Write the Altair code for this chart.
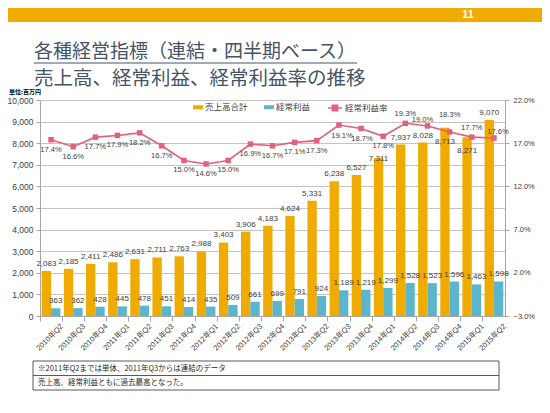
import altair as alt
import pandas as pd

quarters = ["2010年Q2", "2010年Q3", "2010年Q4", "2011年Q1", "2011年Q2", "2011年Q3", "2011年Q4",
            "2012年Q1", "2012年Q2", "2012年Q3", "2012年Q4", "2013年Q1", "2013年Q2", "2013年Q3",
            "2013年Q4", "2014年Q1", "2014年Q2", "2014年Q3", "2014年Q4", "2015年Q1", "2015年Q2"]
sales = [2083, 2185, 2411, 2486, 2631, 2711, 2763, 2988, 3403, 3906, 4183, 4624, 5331, 6238,
         6527, 7311, 7937, 8028, 8713, 8271, 9070]
profit = [363, 362, 428, 445, 478, 451, 414, 435, 509, 661, 699, 791, 924, 1189,
          1219, 1299, 1528, 1523, 1596, 1463, 1598]
rate = [17.4, 16.6, 17.7, 17.9, 18.2, 16.7, 15.0, 14.6, 15.0, 16.9, 16.7, 17.1, 17.3, 19.1,
        18.7, 17.8, 19.3, 19.0, 18.3, 17.7, 17.6]
series = ["売上高合計", "経常利益", "経常利益率"]
left_ticks = [0, 1000, 2000, 3000, 4000, 5000, 6000, 7000, 8000, 9000, 10000]
right_ticks = [-3, 2, 7, 12, 17, 22]
page_no = ["11"]
title_lines = ["各種経営指標（連結・四半期ベース）", "売上高、経常利益、経常利益率の推移"]
unit_text = ["単位:百万円"]
notes = ["※2011年Q2までは単体、2011年Q3からは連結のデータ", "売上高、経常利益ともに過去最高となった。"]

ORANGE = "#F0AB00"
BLUE = "#5BB5CD"
PINK = "#E2607B"
TITLE_C = "#465468"
LABEL_C = "#404040"
NUM_FONT = "Liberation Sans, Noto Sans CJK JP"
JP_FONT = "Noto Sans CJK JP"

df = pd.DataFrame({"quarter": quarters, series[0]: sales, series[1]: profit,
                   "rate": rate, "i": list(range(len(quarters)))})

W, H = 465, 216
step = W / len(quarters)

x = alt.X("quarter:N", sort=quarters,
          scale=alt.Scale(paddingInner=0, paddingOuter=0),
          axis=alt.Axis(title=None, labelAngle=-45, labelAlign="right", labelBaseline="middle",
                        bandPosition=0, labelOffset=step / 2, tickSize=5, labelPadding=4,
                        labelFontSize=7.5, labelColor=LABEL_C, labelFont=NUM_FONT,
                        domainColor="#A6A6A6", tickColor="#A6A6A6", grid=False))

yl_scale = alt.Scale(domain=[0, 10000], nice=False, zero=True)
yl_axis = alt.Axis(title=None, orient="left", values=left_ticks, format=",.0f", grid=True,
                   gridColor="#C4C4C4", tickSize=4, labelPadding=3, labelFontSize=8.5,
                   labelColor=LABEL_C, labelFont=NUM_FONT, domainColor="#A6A6A6",
                   tickColor="#A6A6A6")
yr_scale = alt.Scale(domain=[-3, 22], nice=False, zero=False)
yr_axis = alt.Axis(title=None, orient="right", values=right_ticks, grid=False,
                   labelExpr="format(datum.value, '.1f') + '%'", tickSize=4, labelPadding=4,
                   labelFontSize=7.5, labelColor=LABEL_C, labelFont=NUM_FONT,
                   domainColor="#A6A6A6", tickColor="#A6A6A6")

xoff = alt.XOffset("series:N", sort=series[:2],
                   scale=alt.Scale(paddingInner=0, paddingOuter=0.184))

base_bars = alt.Chart(df).transform_fold(series[:2], as_=["series", "value"])

bars = base_bars.mark_bar().encode(
    x=x,
    xOffset=xoff,
    y=alt.Y("value:Q", scale=yl_scale, axis=yl_axis),
    color=alt.Color("series:N", sort=series[:2],
                    scale=alt.Scale(domain=series[:2], range=[ORANGE, BLUE]),
                    legend=alt.Legend(title=None, orient="none", legendX=153, legendY=2,
                                      direction="horizontal", symbolType="M-1,-0.4H1V0.4H-1Z",
                                      symbolSize=100, labelFontSize=8.5, labelFont=JP_FONT,
                                      labelColor=LABEL_C, labelOffset=2, columnPadding=16,
                                      symbolStrokeWidth=0)),
)


def bar_labels(cond, baseline, dy):
    return base_bars.transform_filter(cond).mark_text(
        baseline=baseline, dy=dy, fontSize=8, color=LABEL_C, font=NUM_FONT).encode(
        x=x,
        xOffset=xoff,
        y=alt.Y("value:Q", scale=yl_scale, axis=yl_axis),
        text=alt.Text("value:Q", format=","),
    )


in_top = f"datum.series == '{series[0]}' && (datum.i == 18 || datum.i == 19)"
at_top = f"datum.series == '{series[0]}' && datum.i == 15"
bar_text_main = bar_labels(f"!({in_top}) && !({at_top})", "bottom", -3)
bar_text_at = bar_labels(at_top, "middle", 1)
bar_text_in = bar_labels(in_top, "middle", 14)

base_rate = alt.Chart(df).transform_calculate(
    lname=f"'{series[2]}'",
    rlabel="format(datum.rate, '.1f') + '%'",
)
line = base_rate.mark_line(strokeWidth=1.6).encode(
    x=x,
    y=alt.Y("rate:Q", scale=yr_scale, axis=yr_axis),
    stroke=alt.Stroke("lname:N", scale=alt.Scale(domain=[series[2]], range=[PINK]),
                      legend=alt.Legend(title=None, orient="none", legendX=287, legendY=0,
                                        direction="horizontal",
                                        symbolType="M-1,0H1M-0.38,-0.38H0.38V0.38H-0.38Z",
                                        symbolSize=196, symbolStrokeWidth=1.5,
                                        symbolFillColor=PINK, labelFontSize=8.5,
                                        labelFont=JP_FONT, labelColor=LABEL_C, labelOffset=2)),
)
points = base_rate.mark_point(shape="square", filled=True, size=30, opacity=1,
                              color=PINK).encode(
    x=x,
    y=alt.Y("rate:Q", scale=yr_scale, axis=yr_axis),
)


def rate_labels(cond, baseline, dx, dy):
    return base_rate.transform_filter(cond).mark_text(
        baseline=baseline, dx=dx, dy=dy, fontSize=7.6, color=LABEL_C, font=NUM_FONT).encode(
        x=x,
        y=alt.Y("rate:Q", scale=yr_scale, axis=yr_axis),
        text="rlabel:N",
    )


rate_text = [
    rate_labels("datum.i < 13 || datum.i == 15", "top", 0, 6),
    rate_labels("datum.i == 13", "top", 3, 7),
    rate_labels("datum.i == 14", "top", 1, 6),
    rate_labels("datum.i == 16 || datum.i == 19", "bottom", 0, -5),
    rate_labels("datum.i == 17", "bottom", -5, -2),
    rate_labels("datum.i == 18", "bottom", 0, -13),
    rate_labels("datum.i == 20", "bottom", 4, -2),
]

one = pd.DataFrame({"k": [0]})
header = alt.Chart(one).mark_rect(color=ORANGE).encode(
    x=alt.value(-32), x2=alt.value(502), y=alt.value(-92), y2=alt.value(-78))
page = alt.Chart(one).mark_text(text=page_no[0], font="Liberation Sans", fontWeight="bold",
                                fontSize=11, color="white", align="center",
                                baseline="middle").encode(x=alt.value(428), y=alt.value(-85))
t1 = alt.Chart(one).mark_text(text=title_lines[0], font=JP_FONT, fontSize=19, color=TITLE_C,
                              align="left", baseline="alphabetic").encode(
    x=alt.value(-6), y=alt.value(-42))
uline = alt.Chart(one).mark_rule(color=TITLE_C, strokeWidth=1).encode(
    x=alt.value(-6), x2=alt.value(317), y=alt.value(-37))
t2 = alt.Chart(one).mark_text(text=title_lines[1], font=JP_FONT, fontSize=19.5, color=TITLE_C,
                              align="left", baseline="alphabetic").encode(
    x=alt.value(-6), y=alt.value(-15.5))
unit = alt.Chart(one).mark_text(text=unit_text[0], font=JP_FONT, fontSize=6, fontWeight="bold",
                                color="#000000", align="left", baseline="middle").encode(
    x=alt.value(-31), y=alt.value(-8))
box = alt.Chart(one).mark_rect(fill="white", stroke="#595959", strokeWidth=1).encode(
    x=alt.value(-7), x2=alt.value(459), y=alt.value(261), y2=alt.value(290))
mid = alt.Chart(one).mark_rule(color="#595959", strokeWidth=1).encode(
    x=alt.value(-7), x2=alt.value(459), y=alt.value(275.5))
n1 = alt.Chart(one).mark_text(text=notes[0], font=JP_FONT, fontSize=7.5, color="#262626",
                              align="left", baseline="middle").encode(
    x=alt.value(-2), y=alt.value(268.5))
n2 = alt.Chart(one).mark_text(text=notes[1], font=JP_FONT, fontSize=7.5, color="#262626",
                              align="left", baseline="middle").encode(
    x=alt.value(-2), y=alt.value(283))

bar_layer = alt.layer(bars, bar_text_main, bar_text_at, bar_text_in)
rate_layer = alt.layer(line, points, *rate_text)

chart = alt.layer(bar_layer, rate_layer, header, page, t1, uline, t2, unit, box, mid, n1, n2
                  ).resolve_scale(y="independent", color="independent").properties(
    width=W, height=H,
    padding={"left": 32, "top": 92, "right": 37, "bottom": 97},
    autosize=alt.AutoSizeParams(type="none"),
).configure_view(stroke=None).configure(background="white")

chart.save("out.html", embed_options={"renderer": "svg", "actions": False})
